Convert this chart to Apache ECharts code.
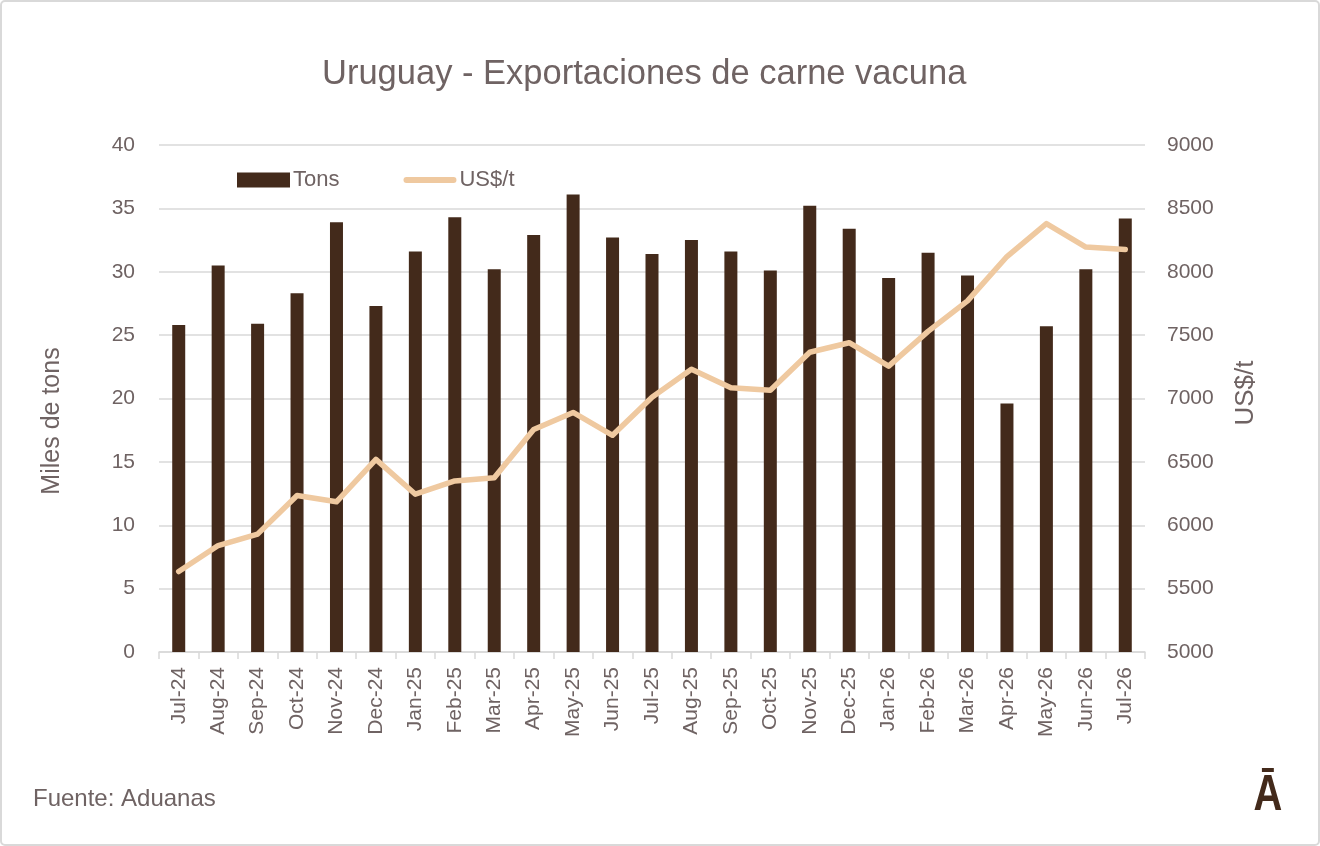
<!DOCTYPE html>
<html>
<head>
<meta charset="utf-8">
<script src="https://cdn.jsdelivr.net/npm/echarts@6/dist/echarts.min.js"></script>
<style>
  html, body { margin: 0; padding: 0; background: #fff; }
  #chart { width: 1320px; height: 846px; }
</style>
</head>
<body>
<div id="chart"></div>
<script>
var meses = ['Jul-24','Aug-24','Sep-24','Oct-24','Nov-24','Dec-24','Jan-25','Feb-25','Mar-25','Apr-25',
  'May-25','Jun-25','Jul-25','Aug-25','Sep-25','Oct-25','Nov-25','Dec-25','Jan-26','Feb-26',
  'Mar-26','Apr-26','May-26','Jun-26','Jul-26'];
// miles de toneladas
var tons = [25.8, 30.5, 25.9, 28.3, 33.9, 27.3, 31.6, 34.3, 30.2, 32.9,
  36.1, 32.7, 31.4, 32.5, 31.6, 30.1, 35.2, 33.4, 29.5, 31.5,
  29.7, 19.6, 25.7, 30.2, 34.2];
// precio medio US$/t
var precio = [5635, 5840, 5930, 6235, 6185, 6520, 6245, 6350, 6375, 6755,
  6890, 6710, 7010, 7230, 7085, 7065, 7365, 7440, 7255, 7530,
  7770, 8120, 8380, 8195, 8175];
var ejeIzq = { min: 0, max: 40, interval: 5 };
var ejeDer = { min: 5000, max: 9000, interval: 500 };

var fuente = "'Liberation Sans', Arial, sans-serif";
var gris = '#6f6363';
var cafe = '#432a1b';
var beige = '#efc9a0';

var myChart = echarts.init(document.getElementById('chart'));
var option = {
  backgroundColor: '#fff',
  textStyle: { fontFamily: fuente },
  title: {
    text: 'Uruguay - Exportaciones de carne vacuna',
    left: 317,
    top: 52,
    textStyle: { fontFamily: fuente, fontSize: 34.5, fontWeight: 'normal', color: gris }
  },
  legend: {
    left: 232,
    top: 164,
    itemWidth: 53,
    itemHeight: 15,
    itemGap: 64,
    textStyle: { fontFamily: fuente, fontSize: 22, color: gris, padding: [0, 0, 0, -2] },
    data: [
      { name: 'Tons', icon: 'rect' },
      // linea gruesa con puntas redondeadas
      { name: 'US$/t', icon: 'path://M0,0 M3,4.5 L50,4.5 A3,3 0 0 1 50,10.5 L3,10.5 A3,3 0 0 1 3,4.5 Z M53,15',
        itemStyle: { color: beige } }
    ]
  },
  grid: { left: 159, right: 175, top: 145, bottom: 194 },
  xAxis: {
    type: 'category',
    data: meses,
    axisLine: { lineStyle: { color: '#d9d9d9', width: 1.5 } },
    axisTick: { show: true, length: 7, lineStyle: { color: '#d9d9d9', width: 1.5 } },
    axisLabel: { rotate: 90, fontFamily: fuente, fontSize: 21, color: gris, margin: 15, interval: 0 }
  },
  yAxis: [{
    type: 'value',
    min: ejeIzq.min, max: ejeIzq.max, interval: ejeIzq.interval,
    axisLine: { show: false },
    axisTick: { show: false },
    axisLabel: { fontFamily: fuente, fontSize: 21, color: gris, margin: 24 },
    splitLine: { lineStyle: { color: '#d9d9d9', width: 1.5 } }
  }, {
    type: 'value',
    min: ejeDer.min, max: ejeDer.max, interval: ejeDer.interval,
    axisLine: { show: false },
    axisTick: { show: false },
    axisLabel: { fontFamily: fuente, fontSize: 21, color: gris, margin: 22,
      formatter: function (v) { return String(v); } },
    splitLine: { show: false }
  }],
  series: [{
    name: 'Tons',
    type: 'bar',
    data: tons,
    barWidth: 13,
    itemStyle: { color: cafe }
  }, {
    name: 'US$/t',
    type: 'line',
    yAxisIndex: 1,
    data: precio,
    symbol: 'none',
    lineStyle: { color: beige, width: 5.5, cap: 'round', join: 'round' },
    itemStyle: { color: beige }
  }],
  graphic: [{
    type: 'rect',
    shape: { x: 1, y: 1, width: 1318, height: 844, r: 4 },
    style: { fill: 'none', stroke: '#d9d9d9', lineWidth: 2 },
    silent: true
  }, {
    type: 'text',
    x: 52, y: 421,
    rotation: Math.PI / 2,
    style: { text: 'Miles de tons', font: "25px 'Liberation Sans', Arial, sans-serif", fill: gris,
      align: 'center', verticalAlign: 'middle' }
  }, {
    type: 'text',
    x: 1246, y: 393,
    rotation: Math.PI / 2,
    style: { text: 'US$/t', font: "26px 'Liberation Sans', Arial, sans-serif", fill: gris,
      align: 'center', verticalAlign: 'middle' }
  }, {
    type: 'text',
    x: 33, y: 799,
    style: { text: 'Fuente: Aduanas', font: "24px 'Liberation Sans', Arial, sans-serif", fill: gris,
      verticalAlign: 'middle' }
  }, {
    // logo
    type: 'text',
    x: 1268, y: 796,
    scaleX: 1.05, scaleY: 1.3,
    style: { text: 'Ā', font: "bold 38px 'Liberation Sans', Arial, sans-serif", fill: cafe,
      align: 'center', verticalAlign: 'middle' }
  }]
};
myChart.setOption(option);
</script>
</body>
</html>
